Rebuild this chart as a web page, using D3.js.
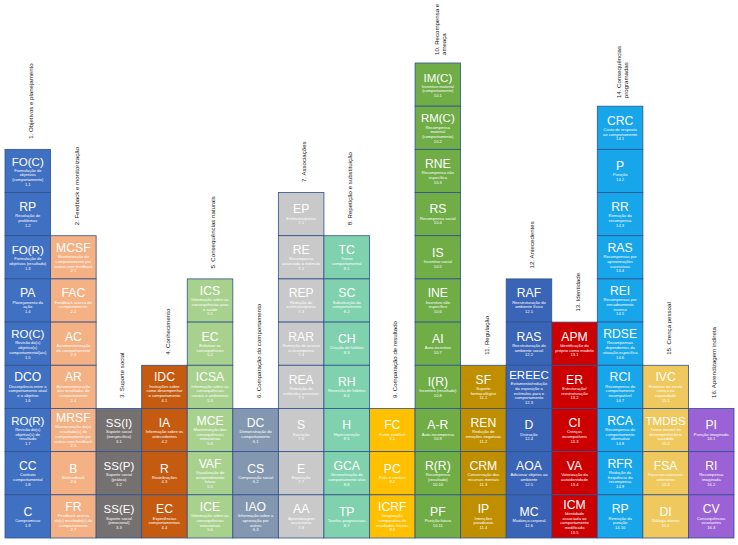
<!DOCTYPE html>
<html>
<head>
<meta charset="utf-8">
<script src="https://cdn.jsdelivr.net/npm/d3@7"></script>
<style>
  body { margin: 0; background: #fff; }
  svg { display: block; font-family: "Liberation Sans", Arial, sans-serif; }
</style>
</head>
<body>
<svg id="chart" width="738" height="545"></svg>
<script>
// Group titles (one per column), "\n" marks a line break
const groupLabels = [
  "1. Objetivos e planejamento",
  "2. Feedback e monitorização",
  "3. Suporte social",
  "4. Conhecimento",
  "5. Consequências naturais",
  "6. Comparação do comportamento",
  "7. Associações",
  "8. Repetição e substituição",
  "9. Comparação de resultado",
  "10. Recompensa e\nameaça",
  "11. Regulação",
  "12. Antecedentes",
  "13. Identidade",
  "14. Consequências\nprogramadas",
  "15. Crença pessoal",
  "16. Aprendizagem indireta"
];

// Column colours
const groupColors = [
  "#4070c2", "#f4b183", "#767171", "#c55a11", "#a9d18e", "#8497b0",
  "#c9c9c9", "#80d2af", "#ffc000", "#70ad47", "#bf8f00", "#3a64b6",
  "#cc0000", "#17a6e9", "#f0c95e", "#9a62d4"
];

// Abbreviations, top to bottom in each column
const bctCodes = [
  ["FO(C)", "RP", "FO(R)", "PA", "RO(C)", "DCO", "RO(R)", "CC", "C"],
  ["MCSF", "FAC", "AC", "AR", "MRSF", "B", "FR"],
  ["SS(I)", "SS(P)", "SS(E)"],
  ["IDC", "IA", "R", "EC"],
  ["ICS", "EC", "ICSA", "MCE", "VAF", "ICE"],
  ["DC", "CS", "IAO"],
  ["EP", "RE", "REP", "RAR", "REA", "S", "E", "AA"],
  ["TC", "SC", "CH", "RH", "H", "GCA", "TP"],
  ["FC", "PC", "ICRF"],
  ["IM(C)", "RM(C)", "RNE", "RS", "IS", "INE", "AI", "I(R)", "A-R", "R(R)", "PF"],
  ["SF", "REN", "CRM", "IP"],
  ["RAF", "RAS", "EREEC", "D", "AOA", "MC"],
  ["APM", "ER", "CI", "VA", "ICM"],
  ["CRC", "P", "RR", "RAS", "REI", "RDSE", "RCI", "RCA", "RFR", "RP"],
  ["IVC", "TMDBS", "FSA", "DI"],
  ["PI", "RI", "CV"]
];

// Technique names, same order as the abbreviations
const bctNames = [
  ["Formulação de objetivos (comportamento)", "Resolução de problemas", "Formulação de objetivos (resultado)",
   "Planejamento da ação", "Revisão do(s) objetivo(s) comportamental(ais)",
   "Discrepância entre o comportamento atual e o objetivo", "Revisão do(s) objetivo(s) de resultado",
   "Contrato comportamental", "Compromisso"],
  ["Monitorização do comportamento por outros sem feedback", "Feedback acerca do comportamento",
   "Automonitorização do comportamento", "Automonitorização dos resultados do comportamento",
   "Monitorização do(s) resultado(s) do comportamento por outros sem feedback", "Biofeedback",
   "Feedback acerca do(s) resultado(s) do comportamento"],
  ["Suporte social (inespecífico)", "Suporte social (prático)", "Suporte social (emocional)"],
  ["Instruções sobre como desempenhar o comportamento", "Informação sobre os antecedentes",
   "Reatribuições", "Experiências comportamentais"],
  ["Informação sobre as consequências para a saúde", "Enfatizar as consequências",
   "Informação sobre as consequências sociais e ambientais", "Monitorização das consequências emocionais",
   "Visualização de arrependimento futuro", "Informação sobre as consequências emocionais"],
  ["Demonstração do comportamento", "Comparação social", "Informação sobre a aprovação por outros"],
  ["Estímulos/pistas", "Recompensa associada a estímulo", "Redução de estímulos/pistas",
   "Remoção do acesso à recompensa", "Remoção de estímulos aversivos", "Saciação", "Exposição",
   "Aprendizagem associativa"],
  ["Treino comportamental", "Substituição do comportamento", "Criação de hábitos", "Reversão de hábitos",
   "Hipercorreção", "Generalização do comportamento alvo", "Tarefas progressivas"],
  ["Fonte credível", "Prós e contras", "Imaginação comparativa de resultados futuros"],
  ["Incentivo material (comportamento)", "Recompensa material (comportamento)", "Recompensa não específica",
   "Recompensa social", "Incentivo social", "Incentivo não específico", "Auto-incentivo",
   "Incentivo (resultado)", "Auto-recompensa", "Recompensa (resultado)", "Punição futura"],
  ["Suporte farmacológico", "Redução de emoções negativas", "Conservação dos recursos mentais",
   "Intenções paradoxais"],
  ["Reestruturação do ambiente físico", "Reestruturação do ambiente social",
   "Evitamento/redução da exposição a estímulos para o comportamento", "Distração",
   "Adicionar objetos ao ambiente", "Mudança corporal"],
  ["Identificação do próprio como modelo", "Estruturação/ reestruturação", "Crenças incompatíveis",
   "Valorização da autoidentidade", "Identidade associada ao comportamento modificado"],
  ["Custo de resposta ao comportamento", "Punição", "Remoção da recompensa",
   "Recompensas por aproximações sucessivas", "Recompensas por encadeamento inverso",
   "Recompensas dependentes da situação específica", "Recompensa do comportamento incompatível",
   "Recompensa do comportamento alternativo", "Redução da frequência da recompensa", "Remoção da punição"],
  ["Enfatizar ou incutir crença na capacidade", "Treino mental de desempenho bem sucedido",
   "Foco nos sucessos anteriores", "Diálogo interno"],
  ["Punição imaginada", "Recompensa imaginada", "Consequências vicariantes"]
];

const svg = d3.select("#chart");

// Columns across, stacked slots up from the bottom
const maxSlots = d3.max(bctCodes, d => d.length);
const x = d3.scaleBand().domain(d3.range(groupLabels.length)).range([5, 734]);
const y = d3.scaleLinear().domain([0, maxSlots]).range([538, 63]);

// Flatten to one record per technique
const cells = [];
bctCodes.forEach((codes, g) => {
  codes.forEach((code, i) => {
    cells.push({ g, i, n: codes.length, code, name: bctNames[g][i], num: `${g + 1}.${i + 1}` });
  });
});

// Hidden text used to measure description words for wrapping
const descSize = 4.1;
const measurer = svg.append("text").attr("font-size", descSize).attr("visibility", "hidden");
function textWidth(s) {
  return measurer.text(s).node().getComputedTextLength();
}
function wrapLines(str, maxW) {
  const words = str.split(/\s+/);
  const lines = [];
  let line = "";
  words.forEach(w => {
    const test = line ? line + " " + w : w;
    if (line && textWidth(test) > maxW) {
      lines.push(line);
      line = w;
    } else {
      line = test;
    }
  });
  if (line) lines.push(line);
  return lines;
}

const cellLayer = svg.append("g");
const labelLayer = svg.append("g");

const cellG = cellLayer.selectAll("g.cell")
  .data(cells)
  .join("g")
  .attr("class", "cell");

cellG.append("rect")
  .attr("x", d => x(d.g))
  .attr("y", d => y(d.n - d.i))
  .attr("width", x.bandwidth())
  .attr("height", d => y(d.n - d.i - 1) - y(d.n - d.i))
  .attr("fill", d => groupColors[d.g])
  .attr("stroke", "#2f528f")
  .attr("stroke-width", 0.8);

// Text block: abbreviation, wrapped name, number, centred vertically in the cell
const lineH = 4.7;
cellG.each(function(d) {
  const g = d3.select(this);
  const lines = wrapLines(d.name, x.bandwidth() - 7).concat([d.num]);
  const top = y(d.n - d.i);
  const h = y(d.n - d.i - 1) - top;
  const blockH = 13 + lines.length * lineH;
  const startY = top + (h - blockH) / 2;
  const cx = x(d.g) + x.bandwidth() / 2;

  g.append("text")
    .attr("x", cx)
    .attr("y", startY + 10.5)
    .attr("text-anchor", "middle")
    .attr("font-size", d.code.length > 4 ? 11.5 : 12.2)
    .attr("fill", "#fff")
    .text(d.code);

  g.append("text")
    .attr("text-anchor", "middle")
    .attr("font-size", descSize)
    .attr("fill", "#fff")
    .selectAll("tspan")
    .data(lines)
    .join("tspan")
    .attr("x", cx)
    .attr("y", (l, j) => startY + 13 + (j + 1) * lineH - 1)
    .text(l => l);
});

measurer.remove();

// Rotated group titles above each column
labelLayer.selectAll("g.label")
  .data(groupLabels)
  .join("g")
  .attr("class", "label")
  .attr("transform", (t, g) => {
    const gap = t.includes("\n") ? 8 : 10.5;
    return `translate(${x(g) + x.bandwidth() / 2 + 3},${y(bctCodes[g].length) - gap}) rotate(-90)`;
  })
  .each(function(t) {
    const parts = t.split("\n");
    d3.select(this).append("text")
      .attr("font-size", 6.1)
      .attr("fill", "#222")
      .selectAll("tspan")
      .data(parts)
      .join("tspan")
      .attr("x", 0)
      .attr("y", (p, j) => parts.length === 1 ? 2.2 : -2 + j * 7)
      .text(p => p);
  });
</script>
</body>
</html>
